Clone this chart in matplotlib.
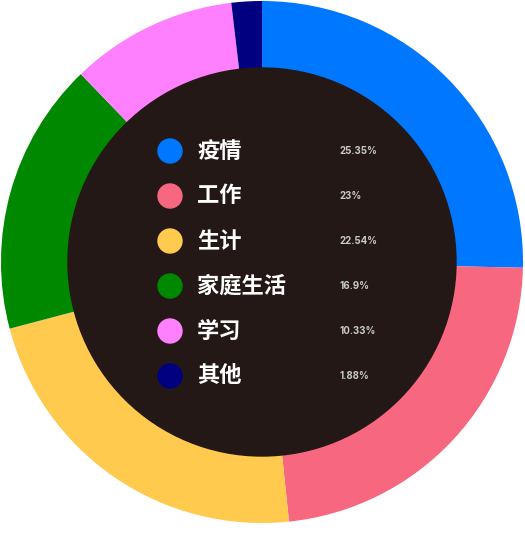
import matplotlib
matplotlib.use("Agg")
import matplotlib.pyplot as plt
from matplotlib.patches import Circle

plt.rcParams['font.family'] = ['Noto Sans CJK SC', 'DejaVu Sans']

# 数据
categories = ['疫情', '工作', '生计', '家庭生活', '学习', '其他']
values = [25.35, 23, 22.54, 16.9, 10.33, 1.88]
pct_labels = ['25.35%', '23%', '22.54%', '16.9%', '10.33%', '1.88%']
colors = ['#0077ff', '#f7677f', '#ffca4d', '#008800', '#ff80ff', '#000080']

W, H = 525, 540
fig = plt.figure(figsize=(W / 100, H / 100), dpi=100)
ax = fig.add_axes([0, 0, 1, 1])

cx, cy = 262, H - 262
ax.pie(values, colors=colors, startangle=90, counterclock=False,
       center=(cx, cy), radius=261, frame=True,
       wedgeprops=dict(linewidth=0))
ax.add_patch(Circle((cx, cy), 194, color='#231815', zorder=3))

# 图例
for i, (name, pct, c) in enumerate(zip(categories, pct_labels, colors)):
    y = H - (151 + i * 45)
    ax.add_patch(Circle((170, y), 12, color=c, zorder=4))
    ax.text(197, y, name, color='white', fontsize=16, fontweight='bold',
            va='center', ha='left', zorder=5)
    ax.text(340, y, pct, color='#c8c8c8', fontsize=7, fontweight='bold',
            family=['Inter', 'DejaVu Sans'], va='center', ha='left', zorder=5)

ax.set_xlim(0, W)
ax.set_ylim(0, H)
ax.set_aspect('equal')
ax.axis('off')

fig.savefig('out.png', dpi=100, facecolor='white')
